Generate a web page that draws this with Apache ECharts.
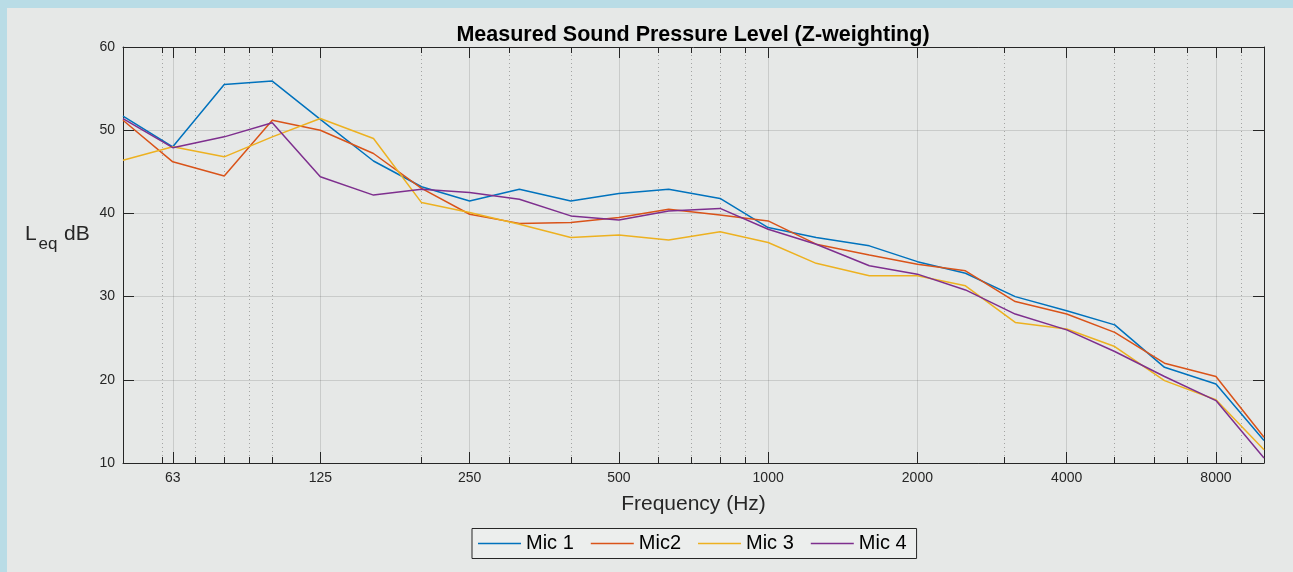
<!DOCTYPE html>
<html>
<head>
<meta charset="utf-8">
<script src="https://cdn.jsdelivr.net/npm/echarts@6/dist/echarts.min.js"></script>
<style>
html,body{margin:0;padding:0;background:#b9dce6;}
#c{width:1293px;height:572px;}
</style>
</head>
<body>
<div id="c"></div>
<script>
// third-octave band centre frequencies (Hz)
const freqs = [50,63,80,100,125,160,200,250,315,400,500,630,800,1000,1250,1600,2000,2500,3150,4000,5000,6300,8000,10000];
const mic1 = [51.7,48.0,55.5,55.9,51.3,46.3,43.2,41.5,42.9,41.5,42.4,42.9,41.8,38.3,37.1,36.1,34.2,32.8,30.0,28.3,26.6,21.5,19.5,12.7];
const mic2 = [51.2,46.2,44.5,51.2,50.0,47.2,43.0,39.9,38.8,38.9,39.5,40.5,39.8,39.1,36.3,35.0,33.9,33.1,29.4,27.9,25.7,22.0,20.4,13.1];
const mic3 = [46.4,48.0,46.8,49.2,51.4,49.0,41.3,40.1,38.7,37.1,37.4,36.8,37.8,36.5,34.0,32.5,32.5,31.3,26.9,26.1,24.0,19.9,17.6,11.6];
const mic4 = [51.4,47.9,49.2,50.9,44.4,42.2,42.9,42.5,41.7,39.7,39.2,40.3,40.6,38.1,36.3,33.7,32.7,30.8,27.9,26.0,23.4,20.4,17.5,10.6];
const seriesNames = ['Mic 1','Mic2','Mic 3','Mic 4'];
const seriesColors = ['#0072BD','#D95319','#EDB120','#7E2F8E'];
const xMajorTicks = [63,125,250,500,1000,2000,4000,8000];
const xMinorTicks = [60,70,80,90,100,200,300,400,600,700,800,900,3000,5000,6000,7000,9000];
const yTicks = [10,20,30,40,50,60];

const FONT = '"Liberation Sans", Arial, Helvetica, sans-serif';
const AX = '#262626';
const X_MIN = 50, X_MAX = 10000;

function pairs(vals){ return freqs.map((f,i)=>[f, vals[i]]); }
const allVals = [mic1, mic2, mic3, mic4];

function xAxisDef(pos, major, showLabel){
  return {
    type:'log', logBase:10, min:X_MIN, max:X_MAX, position:pos,
    axisLine:{show: major, onZero:false, lineStyle:{color:AX, width:1}},
    axisTick:{show:true, inside:true, length: major?11:6, customValues: major?xMajorTicks:xMinorTicks, lineStyle:{color:AX, width:1}},
    axisLabel:{show:showLabel, customValues:xMajorTicks, margin:8, fontSize:14, color:AX, fontFamily:FONT,
      formatter:(v)=>String(Math.round(v))},
    splitLine:{show: pos==='bottom', lineStyle: major?{color:'rgba(38,38,38,0.15)', width:1, type:'solid'}:{color:'rgba(38,38,38,0.35)', width:1, type:[1,3]}},
    minorTick:{show:false}, minorSplitLine:{show:false},
    name: showLabel ? 'Frequency (Hz)' : '',
    nameLocation:'middle', nameGap:31,
    nameTextStyle:{fontSize:21, color:AX, fontFamily:FONT}
  };
}

const chart = echarts.init(document.getElementById('c'), null, {renderer:'canvas'});
chart.setOption({
  backgroundColor:'#b9dce6',
  animation:false,
  graphic:[
    {type:'rect', z:-10, silent:true, shape:{x:7,y:8,width:1293-7,height:572-8}, style:{fill:'#e6e8e7'}},
    {type:'text', z:10, x:25, y:234, style:{text:'L', fontSize:21, fontFamily:FONT, fill:AX, verticalAlign:'middle', align:'left'}},
    {type:'text', z:10, x:38.5, y:244.5, style:{text:'eq', fontSize:17, fontFamily:FONT, fill:AX, verticalAlign:'middle', align:'left'}},
    {type:'text', z:10, x:64, y:234, style:{text:'dB', fontSize:21, fontFamily:FONT, fill:AX, verticalAlign:'middle', align:'left'}}
  ],
  title:{
    text:'Measured Sound Pressure Level (Z-weighting)',
    left:688, textAlign:'center', top:19,
    textStyle:{fontSize:21.5, fontWeight:'bold', color:'#000', fontFamily:FONT}
  },
  legend:{
    data:seriesNames, left:472, top:528.5, icon:'rect',
    orient:'horizontal', itemWidth:43, itemHeight:1.5, itemGap:17,
    padding:[5,10,5,6], borderColor:AX, borderWidth:1, backgroundColor:'rgba(255,255,255,0.25)',
    textStyle:{fontSize:20, color:'#000', fontFamily:FONT, lineHeight:20}
  },
  grid:{left:123, right:29, top:47, bottom:109, containLabel:false},
  xAxis:[
    xAxisDef('bottom', true, true),
    xAxisDef('bottom', false, false),
    xAxisDef('top', true, false),
    xAxisDef('top', false, false)
  ],
  yAxis:[
    {type:'value', min:10, max:60, interval:10, position:'left',
     axisLine:{show:true, lineStyle:{color:AX}},
     axisTick:{show:true, inside:true, length:11, lineStyle:{color:AX}},
     axisLabel:{margin:8, fontSize:14, color:AX, fontFamily:FONT, customValues:yTicks},
     splitLine:{show:true, lineStyle:{color:'rgba(38,38,38,0.15)', width:1}}},
    {type:'value', min:10, max:60, interval:10, position:'right',
     axisLine:{show:true, lineStyle:{color:AX}},
     axisTick:{show:true, inside:true, length:11, lineStyle:{color:AX}},
     axisLabel:{show:false}, splitLine:{show:false}}
  ],
  series: seriesNames.map((n,i)=>({
    name:n, type:'line', xAxisIndex:0, yAxisIndex:0,
    data:pairs(allVals[i]), symbol:'none', showSymbol:false,
    lineStyle:{color:seriesColors[i], width:1.5}, itemStyle:{color:seriesColors[i]},
    z:3
  }))
});
</script>
</body>
</html>
